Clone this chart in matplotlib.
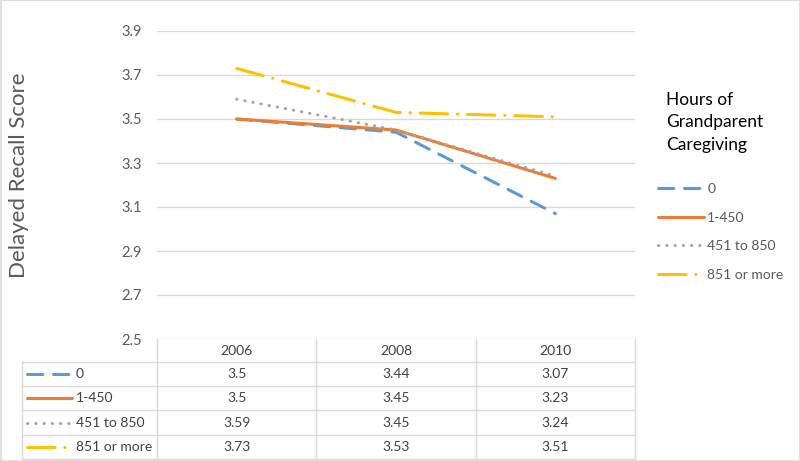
import numpy as np
import matplotlib
matplotlib.use("Agg")
import matplotlib.pyplot as plt
from matplotlib.lines import Line2D
from matplotlib.patches import Rectangle

plt.rcParams["font.family"] = ["Lato", "DejaVu Sans"]

# ---- data ----
years = ["2006", "2008", "2010"]
series_names = ["0", "1-450", "451 to 850", "851 or more"]
vals_0 = [3.5, 3.44, 3.07]
vals_1_450 = [3.5, 3.45, 3.23]
vals_451_850 = [3.59, 3.45, 3.24]
vals_851 = [3.73, 3.53, 3.51]
y_ticks = [2.5, 2.7, 2.9, 3.1, 3.3, 3.5, 3.7, 3.9]

series_vals = [vals_0, vals_1_450, vals_451_850, vals_851]
colors = ["#5B9BD5", "#ED7D31", "#A5A5A5", "#FFC000"]
LW = 2.2
styles = [
    dict(dashes=(5, 3.5), dash_capstyle="round"),
    dict(linestyle="-", solid_capstyle="round"),
    dict(dashes=(0.1, 2.6), dash_capstyle="round"),
    dict(dashes=(9, 3.2, 0.1, 3.2), dash_capstyle="round"),
]

W, H = 800, 461
fig = plt.figure(figsize=(W / 100, H / 100), dpi=100)

# plot area in pixel terms
x0, x1, ytop, ybot = 157, 635, 31, 339
ax = fig.add_axes([x0 / W, 1 - ybot / H, (x1 - x0) / W, (ybot - ytop) / H])
xs = np.arange(len(years))
for vals, c, st in zip(series_vals, colors, styles):
    ax.plot(xs, vals, color=c, lw=LW, **st)

ax.set_xlim(-0.5, len(years) - 0.5)
ax.set_ylim(y_ticks[0], y_ticks[-1])
ax.set_yticks(y_ticks)
ax.set_yticklabels([f"{t:.1f}" for t in y_ticks], color="#595959", fontsize=10.5)
ax.set_xticks([])
ax.tick_params(axis="y", length=0, pad=11)
ax.grid(axis="y", color="#D9D9D9", lw=1)
for s in ax.spines.values():
    s.set_visible(False)
ax.set_axisbelow(True)

fig.text(19 / W, 1 - 175 / H, "Delayed Recall Score", rotation=90,
         ha="center", va="center", fontsize=16, color="#595959")

# ---- data table under the plot ----
tab = fig.add_axes([0, 0, 1, 1], zorder=-1)
tab.set_xlim(0, W)
tab.set_ylim(H, 0)
tab.axis("off")
grid_c = "#D9D9D9"
txt_c = "#404040"
row_h = 24.2
hdr_h = 23
left = 22
col_edges = [ax.transData.transform((x - 0.5, 0))[0] * 100 / fig.dpi
             for x in range(len(years) + 1)]
rows_top = ybot + hdr_h
bottom = rows_top + row_h * len(series_names)

for e in col_edges:
    tab.plot([e, e], [ybot, bottom], color=grid_c, lw=1)
tab.plot([left, left], [rows_top, bottom], color=grid_c, lw=1)
for i in range(len(series_names) + 1):
    y = rows_top + i * row_h
    tab.plot([left, col_edges[-1]], [y, y], color=grid_c, lw=1)

for j, yr in enumerate(years):
    cx = (col_edges[j] + col_edges[j + 1]) / 2
    tab.text(cx, ybot + hdr_h / 2, yr, ha="center", va="center",
             fontsize=10, color=txt_c)
for i, (name, vals, c, st) in enumerate(zip(series_names, series_vals, colors, styles)):
    cy = rows_top + (i + 0.5) * row_h
    tab.add_line(Line2D([27, 72], [cy, cy], color=c, lw=LW, **st))
    tab.text(76, cy, name, ha="left", va="center", fontsize=10, color=txt_c)
    for j, v in enumerate(vals):
        cx = (col_edges[j] + col_edges[j + 1]) / 2
        tab.text(cx, cy, f"{v:g}", ha="center", va="center",
                 fontsize=10, color=txt_c)

tab.add_patch(Rectangle((0.5, 0.5), W - 1, H - 1, fill=False, ec=grid_c, lw=1.2))

# ---- legend ----
fig.text(666 / W, 1 - 92 / H, "Hours of\nGrandparent\nCaregiving",
         ha="left", va="top", fontsize=12.5, color="#000000", linespacing=1.5)
handles = [Line2D([], [], color=c, lw=LW, **st) for c, st in zip(colors, styles)]
leg = fig.legend(handles, series_names, loc="upper left",
                 bbox_to_anchor=(651 / W, 1 - 176 / H), frameon=False,
                 fontsize=10, handlelength=3.3, handletextpad=0.25,
                 labelspacing=1.2, borderpad=0)
for t in leg.get_texts():
    t.set_color("#595959")

fig.savefig("out.png", dpi=100)
